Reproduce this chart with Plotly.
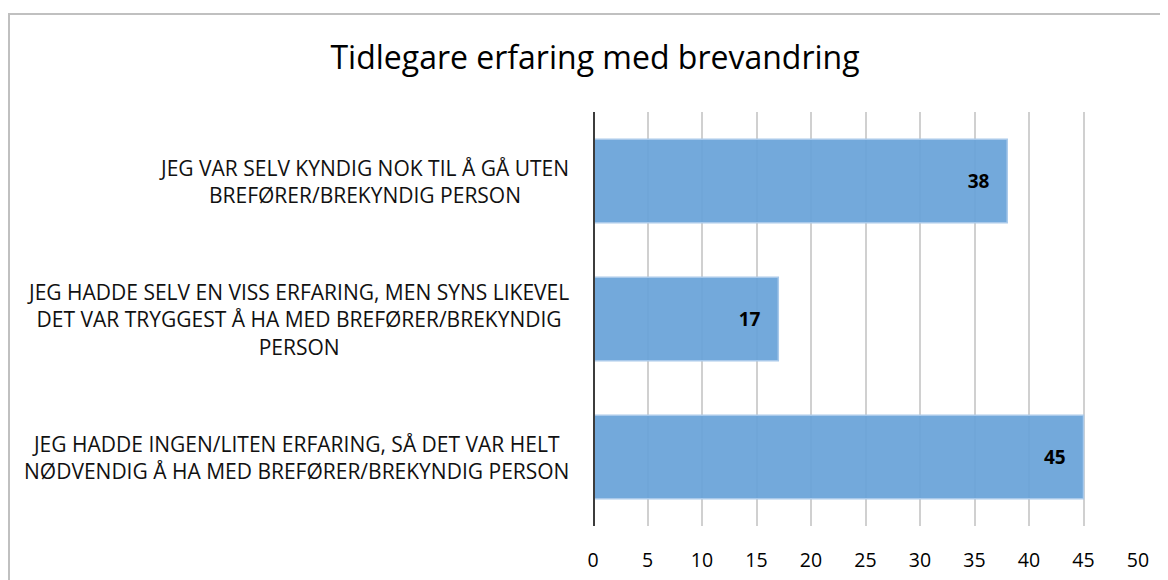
import plotly.graph_objects as go

categories = [
    "JEG HADDE INGEN/LITEN ERFARING, SÅ DET VAR HELT<br>NØDVENDIG Å HA MED BREFØRER/BREKYNDIG PERSON",
    "JEG HADDE SELV EN VISS ERFARING, MEN SYNS LIKEVEL<br>DET VAR TRYGGEST Å HA MED BREFØRER/BREKYNDIG<br>PERSON",
    "JEG VAR SELV KYNDIG NOK TIL Å GÅ UTEN<br>BREFØRER/BREKYNDIG PERSON",
]
values = [45, 17, 38]
x_ticks = [0, 5, 10, 15, 20, 25, 30, 35, 40, 45, 50]
title_text = "Tidlegare erfaring med brevandring"

OFF = 8  # page body margin
W, H = 1168 - OFF, 580 - OFF
ML = 593 - OFF
MT = 112 - OFF
PR = 1138 - OFF   # plot right edge (figure px)
PB = 526 - OFF    # plot bottom edge (figure px)
MR = W - PR
MB = H - PB
PW, PH = W - ML - MR, H - MT - MB
FONT = "Open Sans"

def px_to_paper_x(px):
    return (px - OFF - ML) / PW

def px_to_paper_y(py):
    return (PB - (py - OFF)) / PH

fig = go.Figure()
fig.add_trace(go.Bar(
    y=list(range(len(categories))),
    x=values,
    orientation="h",
    marker=dict(color="rgba(104,162,216,0.93)", line=dict(color="#a9c9ea", width=1.5)),
    text=[str(v) + "\u00a0\u00a0\u00a0" for v in values],
    textposition="inside",
    insidetextanchor="end",
    textfont=dict(family=FONT, size=19, color="black", weight="bold"),
    cliponaxis=False,
    hoverinfo="skip",
))

for i, cat in enumerate(categories):
    fig.add_annotation(
        x=px_to_paper_x(571), xref="paper", xanchor="right",
        y=i, yref="y", yanchor="middle",
        text=cat, align="center", showarrow=False,
        font=dict(family=FONT, size=21, color="#111111"),
    )

fig.update_layout(
    width=W, height=H,
    margin=dict(l=ML, r=MR, t=MT, b=MB, autoexpand=False),
    paper_bgcolor="white", plot_bgcolor="white",
    showlegend=False,
    bargap=0.396,
    title=dict(text=title_text, x=(595 - OFF) / W, xref="container", xanchor="center",
               y=1 - (58 - OFF) / H, yref="container", yanchor="middle",
               font=dict(family=FONT, size=32, color="black")),
    xaxis=dict(range=[0, 50], tickvals=x_ticks, showgrid=True, gridcolor="#d0d0d0",
               gridwidth=1.5, zeroline=False, showline=False, automargin=False,
               tickfont=dict(family=FONT, size=19.5, color="black"),
               ticks="outside", ticklen=17, tickcolor="rgba(0,0,0,0)"),
    yaxis=dict(range=[-0.5, 2.5], showticklabels=False, showgrid=False, zeroline=False,
               showline=False, automargin=False),
    shapes=[
        dict(type="line", xref="x", yref="paper", x0=0, x1=0, y0=0, y1=1,
             line=dict(color="#3c3c3c", width=4), layer="above"),
        dict(type="rect", xref="paper", yref="paper",
             x0=px_to_paper_x(9), x1=px_to_paper_x(1190),
             y0=px_to_paper_y(620), y1=px_to_paper_y(14),
             line=dict(color="#c0c0c0", width=2), fillcolor="rgba(0,0,0,0)", layer="below"),
    ],
)

fig.write_html("out.html")
